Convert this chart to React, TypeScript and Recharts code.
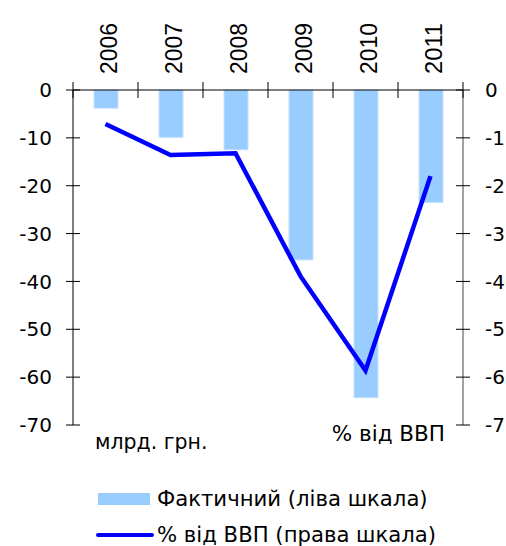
import React from 'react';
import { ComposedChart, Bar, Line, XAxis, YAxis } from 'recharts';

const years = ['2006', '2007', '2008', '2009', '2010', '2011'];
const actualBn = [-3.8, -9.9, -12.5, -35.5, -64.3, -23.5];
const pctGdp = [-0.71, -1.36, -1.32, -3.89, -5.86, -1.8];
const leftTicks = [0, -10, -20, -30, -40, -50, -60, -70];
const rightTicks = [0, -1, -2, -3, -4, -5, -6, -7];
const seriesNames = ['Фактичний (ліва шкала)', '% від ВВП (права шкала)'];
const unitLeft = 'млрд. грн.';
const unitRight = '% від ВВП';

const data = years.map((y, i) => ({ year: y, actual: actualBn[i], pct: pctGdp[i] }));

const FONT = '"DejaVu Sans", Verdana, sans-serif';
const YEAR_FONT = '"Liberation Sans", Arial, sans-serif';
const BAR_COLOR = '#99CCFF';
const LINE_COLOR = '#0000FF';

const renderXTick = (props: any) => {
  const { x, y, payload, index, visibleTicksCount, width } = props;
  const w = typeof width === 'number' ? width : 390;
  const half = w / visibleTicksCount / 2;
  return (
    <g key={`xt-${index}`}>
      <line x1={x - half} x2={x - half} y1={y - 8} y2={y + 8} stroke="#000" />
      {index === visibleTicksCount - 1 && (
        <line x1={x + half} x2={x + half} y1={y - 8} y2={y + 8} stroke="#000" />
      )}
      <g transform={`translate(${x + 11.5},${y - 16}) rotate(-90)`}>
        <text
          x={0}
          y={0}
          textAnchor="start"
          fontSize={24}
          fontWeight="normal"
          fontFamily={YEAR_FONT}
          textLength={51}
          lengthAdjust="spacingAndGlyphs"
          fill="#000"
        >
          {payload.value}
        </text>
      </g>
    </g>
  );
};

const renderLTick = (props: any) => {
  const { x, y, payload, index } = props;
  return (
    <g key={`lt-${index}`}>
      <line x1={x - 7} x2={x + 7} y1={y} y2={y} stroke="#000" />
      <text x={x - 21} y={y} dy="0.36em" textAnchor="end" fontSize={20} fontFamily={FONT} fill="#000">
        {payload.value}
      </text>
    </g>
  );
};

const renderRTick = (props: any) => {
  const { x, y, payload, index } = props;
  return (
    <g key={`rt-${index}`}>
      <line x1={x - 7} x2={x + 7} y1={y} y2={y} stroke="#000" />
      <text x={x + 22} y={y} dy="0.36em" textAnchor="start" fontSize={20} fontFamily={FONT} fill="#000">
        {payload.value}
      </text>
    </g>
  );
};

export default function App() {
  return (
    <div style={{ position: 'absolute', left: 0, top: 0, width: 506, height: 546, background: '#fff' }}>
      <ComposedChart
        width={506}
        height={546}
        data={data}
        margin={{ top: 0, right: 0, bottom: 121, left: 0 }}
        barSize={24}
      >
        <XAxis
          dataKey="year"
          orientation="top"
          height={90}
          tickSize={0}
          tickMargin={0}
          tickLine={false}
          axisLine={{ stroke: '#000' }}
          tick={renderXTick}
          interval={0}
        />
        <YAxis
          yAxisId="left"
          orientation="left"
          width={73}
          domain={[-70, 0]}
          ticks={leftTicks}
          tickSize={0}
          tickMargin={0}
          tickLine={false}
          axisLine={{ stroke: '#000' }}
          tick={renderLTick}
          interval={0}
        />
        <YAxis
          yAxisId="right"
          orientation="right"
          width={43}
          domain={[-7, 0]}
          ticks={rightTicks}
          tickSize={0}
          tickMargin={0}
          tickLine={false}
          axisLine={{ stroke: '#444' }}
          tick={renderRTick}
          interval={0}
        />
        <Bar
          yAxisId="left"
          dataKey="actual"
          name={seriesNames[0]}
          fill={BAR_COLOR}
          stroke="#C4E1FF"
          strokeWidth={1}
          isAnimationActive={false}
        />
        <Line
          yAxisId="right"
          dataKey="pct"
          name={seriesNames[1]}
          stroke={LINE_COLOR}
          strokeWidth={4.5}
          dot={false}
          activeDot={false}
          isAnimationActive={false}
        />
        <text x={95} y={449} fontSize={20.5} fontFamily={FONT} fill="#000">{unitLeft}</text>
        <text x={445} y={441} textAnchor="end" fontSize={21.5} fontFamily={FONT} fill="#000">{unitRight}</text>
        <rect x={98} y={493} width={52} height={12} fill={BAR_COLOR} />
        <text x={157} y={506} fontSize={21.2} fontFamily={FONT} fill="#000">{seriesNames[0]}</text>
        <line x1={98} x2={152} y1={535} y2={535} stroke={LINE_COLOR} strokeWidth={4} strokeLinecap="round" />
        <text x={157} y={542} fontSize={21.2} fontFamily={FONT} fill="#000">{seriesNames[1]}</text>
      </ComposedChart>
    </div>
  );
}
